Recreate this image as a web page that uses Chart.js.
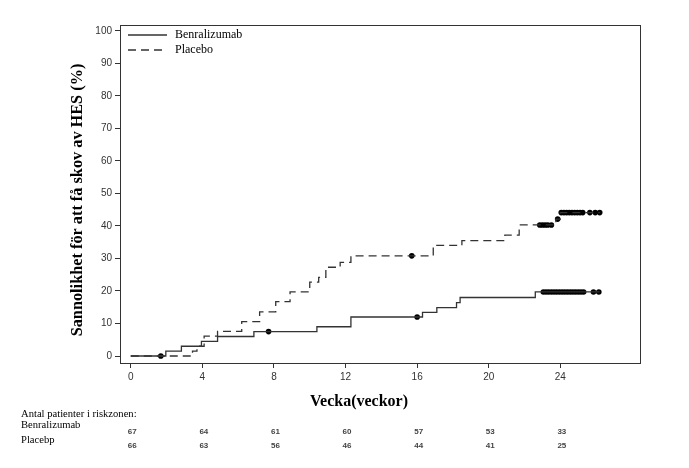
<!DOCTYPE html>
<html>
<head>
<meta charset="utf-8">
<script src="https://cdn.jsdelivr.net/npm/chart.js@4.4.1/dist/chart.umd.min.js"></script>
<style>
  html, body { margin: 0; padding: 0; background: #fff; }
  #wrap { width: 689px; height: 468px; position: relative; }
</style>
</head>
<body>
<div id="wrap"><canvas id="km" width="689" height="468"></canvas></div>
<script>
// tick labels
const xTicks = [0, 4, 8, 12, 16, 20, 24];
const yTicks = [0, 10, 20, 30, 40, 50, 60, 70, 80, 90, 100];

// Kaplan-Meier steps (week, cumulative %)
const benraWeeks = [0, 1.96, 2.83, 3.95, 4.85, 6.88, 10.4, 12.3, 16.3, 17.1, 18.2, 18.4, 22.6, 26.2];
const benraPct   = [0, 1.5, 3.0, 4.5, 6.0, 7.5, 9.0, 12.0, 13.4, 14.9, 16.4, 18.0, 19.7, 19.7];
const placeboWeeks = [0, 3.45, 3.7, 4.1, 4.85, 6.2, 7.2, 8.1, 8.9, 10.0, 10.5, 10.9, 11.7, 12.3, 16.9, 18.5, 20.9, 21.7, 23.75, 24.0, 26.2];
const placeboPct   = [0, 1.5, 3.0, 6.1, 7.6, 10.6, 13.6, 16.7, 19.7, 22.7, 24.2, 27.3, 28.8, 30.8, 34.0, 35.5, 37.2, 40.3, 42.1, 44.1, 44.1];

// censored times (weeks)
const benraCensored = [1.68, 7.7, 16.0, 23.05, 23.2, 23.35, 23.5, 23.65, 23.8, 23.95, 24.1, 24.25, 24.4, 24.55, 24.7, 24.85, 25.0, 25.15, 25.3, 25.85, 26.15];
const placeboCensored = [15.7, 22.85, 23.0, 23.15, 23.3, 23.5, 23.85, 24.05, 24.2, 24.35, 24.5, 24.65, 24.8, 24.95, 25.1, 25.25, 25.65, 25.95, 26.2];

// numbers at risk
const seriesNames = ["Benralizumab", "Placebo"];
const riskLabels = ["Benralizumab", "Placebp"];
const benraAtRisk = [67, 64, 61, 60, 57, 53, 33];
const placeboAtRisk = [66, 63, 56, 46, 44, 41, 25];

const ink = "#333";

function steps(weeks, pct) {
  return weeks.map((w, i) => ({x: w, y: pct[i]}));
}
function levelAt(weeks, pct, t) {
  let v = pct[0];
  weeks.forEach((w, i) => { if (w <= t) v = pct[i]; });
  return v;
}
function marks(times, weeks, pct) {
  return times.map(t => ({x: t, y: levelAt(weeks, pct, t)}));
}

const frame = {
  id: "frame",
  afterDraw(chart) {
    const {ctx, chartArea: a} = chart;
    const xs = chart.scales.x;
    ctx.save();
    ctx.strokeStyle = ink;
    ctx.lineWidth = 1;
    ctx.strokeRect(Math.round(a.left) + 0.5, Math.round(a.top) + 0.5, Math.round(a.right - a.left), Math.round(a.bottom - a.top));

    // legend
    ctx.lineWidth = 1.3;
    ctx.beginPath();
    ctx.moveTo(128, 35); ctx.lineTo(167, 35);
    ctx.stroke();
    ctx.setLineDash([8, 5]);
    ctx.beginPath();
    ctx.moveTo(128, 50); ctx.lineTo(167, 50);
    ctx.stroke();
    ctx.setLineDash([]);
    ctx.fillStyle = "#000";
    ctx.font = "12px 'Liberation Serif'";
    ctx.textBaseline = "middle";
    ctx.textAlign = "left";
    ctx.fillText(seriesNames[0], 175, 35);
    ctx.fillText(seriesNames[1], 175, 50);

    // axis titles
    ctx.font = "bold 16px 'Liberation Serif'";
    ctx.textAlign = "center";
    ctx.fillText("Vecka(veckor)", 359, 402);
    ctx.save();
    ctx.translate(78, 200);
    ctx.rotate(-Math.PI / 2);
    ctx.font = "bold 16.3px 'Liberation Serif'";
    ctx.fillText("Sannolikhet för att få skov av HES (%)", 0, 0);
    ctx.restore();

    // risk table
    ctx.textAlign = "left";
    ctx.font = "10.6px 'Liberation Serif'";
    ctx.fillText("Antal patienter i riskzonen:", 21, 414);
    ctx.fillText(riskLabels[0], 21, 425);
    ctx.fillText(riskLabels[1], 21, 440);
    ctx.textAlign = "center";
    ctx.font = "bold 8px 'Liberation Sans'";
    ctx.fillStyle = "#444";
    xTicks.forEach((w, i) => {
      const px = xs.getPixelForValue(w) + 1.5;
      ctx.fillText(String(benraAtRisk[i]), px, 432);
      ctx.fillText(String(placeboAtRisk[i]), px, 446);
    });
    ctx.restore();
  }
};

const tickFont = {family: "'Liberation Sans'", size: 10};

new Chart(document.getElementById("km"), {
  type: "scatter",
  data: {
    datasets: [
      {
        label: seriesNames[0],
        data: steps(benraWeeks, benraPct),
        showLine: true, stepped: true,
        borderColor: ink, borderWidth: 1.3,
        pointRadius: 0, fill: false
      },
      {
        label: seriesNames[1],
        data: steps(placeboWeeks, placeboPct),
        showLine: true, stepped: true,
        borderColor: ink, borderWidth: 1.3, borderDash: [8, 5],
        pointRadius: 0, fill: false
      },
      {
        label: "censored b",
        data: marks(benraCensored, benraWeeks, benraPct),
        showLine: false, pointRadius: 2.8, pointBorderWidth: 0,
        backgroundColor: "#000", borderColor: "#000"
      },
      {
        label: "censored p",
        data: marks(placeboCensored, placeboWeeks, placeboPct),
        showLine: false, pointRadius: 2.8, pointBorderWidth: 0,
        backgroundColor: "#000", borderColor: "#000"
      }
    ]
  },
  options: {
    responsive: false,
    animation: false,
    events: [],
    layout: {padding: {left: 0, right: 49, top: 25, bottom: 0}},
    plugins: {legend: {display: false}, tooltip: {enabled: false}},
    scales: {
      x: {
        type: "linear", min: -0.6, max: 28.45,
        afterBuildTicks: s => { s.ticks = xTicks.map(v => ({value: v})); },
        afterFit: s => { s.height = 105; },
        grid: {drawOnChartArea: false, drawTicks: true, tickLength: 5, color: ink},
        border: {display: true, color: ink},
        ticks: {font: tickFont, color: ink, padding: 3, maxRotation: 0, autoSkip: false}
      },
      y: {
        type: "linear", min: -2.15, max: 101.8,
        afterBuildTicks: s => { s.ticks = yTicks.map(v => ({value: v})); },
        afterFit: s => { s.width = 120; },
        grid: {drawOnChartArea: false, drawTicks: true, tickLength: 5, color: ink},
        border: {display: true, color: ink},
        ticks: {font: tickFont, color: ink, padding: 3, autoSkip: false}
      }
    }
  },
  plugins: [frame]
});
</script>
</body>
</html>
